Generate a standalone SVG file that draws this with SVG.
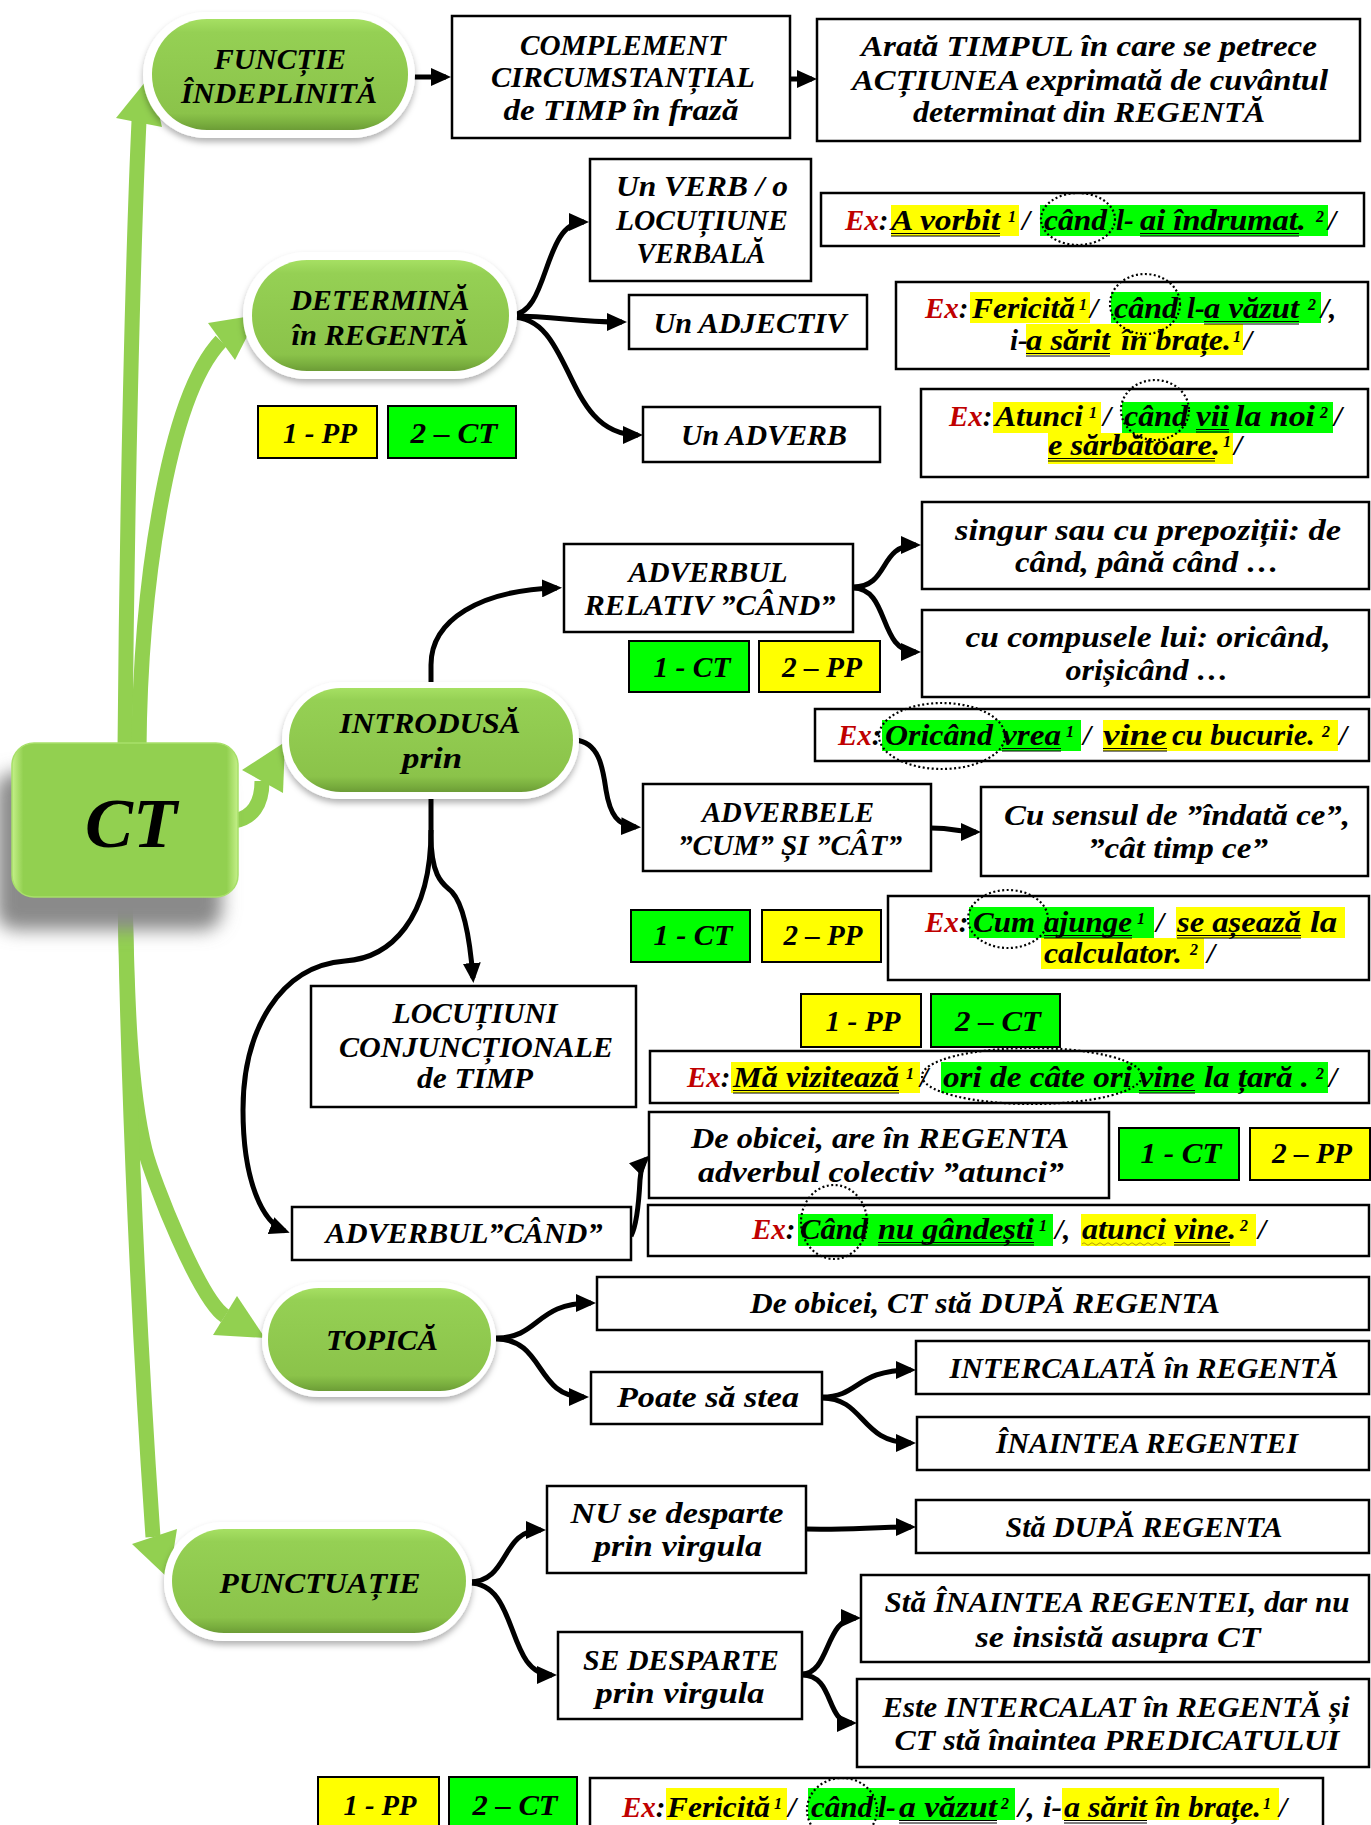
<svg xmlns="http://www.w3.org/2000/svg" width="1371" height="1825" viewBox="0 0 1371 1825">
<defs>
<style>
.t{font-family:"Liberation Serif","Times New Roman",serif;font-weight:bold;font-style:italic;font-size:30px;fill:#000;text-anchor:middle}
.e{font-family:"Liberation Serif","Times New Roman",serif;font-weight:bold;font-style:italic;font-size:29px;fill:#000}
.s{font-family:"Liberation Serif","Times New Roman",serif;font-weight:bold;font-style:italic;font-size:16px;fill:#000}
.red{fill:#C00000}
.box{fill:#fff;stroke:#000;stroke-width:2.5}
.ly{fill:#FFFF00;stroke:#000;stroke-width:2}
.lg{fill:#00FF00;stroke:#000;stroke-width:2}
.hy{fill:#FFFF00}
.hg{fill:#00FF00}
.con{fill:none;stroke:#000;stroke-width:5;marker-end:url(#ah)}
.ul{stroke:#000;stroke-width:1;fill:none}
.dot{fill:none;stroke:#000;stroke-width:2.2;stroke-dasharray:2 2.5}
.gl{fill:none;stroke:#92D050;stroke-width:15}
.gh{fill:#92D050}
.pw{fill:#fff;filter:url(#psh)}
.pg{fill:url(#pg)}
</style>
<marker id="ah" viewBox="0 0 20 18" markerWidth="20" markerHeight="18" refX="15" refY="9" orient="auto" markerUnits="userSpaceOnUse"><path d="M0,0 L20,9 L0,18 Z" fill="#000"/></marker>
<linearGradient id="pg" x1="0" y1="0" x2="0" y2="1"><stop offset="0" stop-color="#A6E063"/><stop offset="0.12" stop-color="#95D054"/><stop offset="0.85" stop-color="#8BC34A"/><stop offset="0.94" stop-color="#79AE3E"/><stop offset="1" stop-color="#6C9C36"/></linearGradient>
<linearGradient id="cg" x1="0" y1="0" x2="1" y2="0"><stop offset="0" stop-color="#C5F08A"/><stop offset="0.05" stop-color="#92D050"/><stop offset="0.95" stop-color="#92D050"/><stop offset="1" stop-color="#C5F08A"/></linearGradient>
<filter id="psh" x="-10%" y="-10%" width="120%" height="140%"><feDropShadow dx="0" dy="4" stdDeviation="3" flood-color="#000" flood-opacity="0.3"/></filter>
<filter id="blur" x="-20%" y="-20%" width="140%" height="140%"><feGaussianBlur stdDeviation="9"/></filter>
</defs>
<rect width="1371" height="1825" fill="#fff"/>

<g id="connectors">
<path class="gl" d="M125,750 C127,500 133,250 139,121"/>
<polygon class="gh" points="116,118 150,76 162,127"/>
<path class="gl" d="M139,750 C140,600 165,400 221,341"/>
<polygon class="gh" points="208,323 258,315 235,360"/>
<path class="gl" d="M234,821 C252,818 262,805 262,781"/>
<polygon class="gh" points="242,770 285,742 283,793"/>
<path class="gl" d="M125,890 C127,1000 130,1090 145,1150 C153,1182 200,1300 225,1316"/>
<polygon class="gh" points="213,1335 265,1338 237,1296"/>
<path class="gl" d="M125,890 C128,1100 140,1350 153,1537"/>
<polygon class="gh" points="132,1544 169,1579 177,1529"/>

<path class="con" d="M413,77 L446,77"/>
<path class="con" d="M790,79 L812,79"/>
<path class="con" d="M511,315 C550,315 542,222 584,222"/>
<path class="con" d="M511,316 C560,316 570,322 622,322"/>
<path class="con" d="M511,317 C575,317 562,435 638,435"/>
<path class="con" d="M431,686 L431,665 C431,620 480,590 557,588"/>
<path class="con" d="M853,587 C890,587 878,545 916,545"/>
<path class="con" d="M853,588 C890,588 878,652 916,652"/>
<path class="con" d="M575,740 C600,742 603,770 606,790 C610,815 618,826 636,827"/>
<path class="con" d="M931,828 C955,828 958,832 976,832"/>
<path class="con" d="M431,792 L431,835 C431,880 445,885 452,892 C464,905 470,940 473,978"/>
<path class="con" d="M431,830 C431,920 390,958 345,961 C280,966 243,1030 243,1110 C243,1180 262,1222 285,1231"/>
<path class="con" d="M631,1236 C637,1225 639,1200 640,1180 C641,1168 643,1162 646,1159"/>
<path class="con" d="M496,1338 C540,1338 535,1303 591,1303"/>
<path class="con" d="M496,1339 C545,1339 535,1397 584,1397"/>
<path class="con" d="M822,1397 C860,1397 855,1370 911,1370"/>
<path class="con" d="M822,1398 C865,1398 860,1443 911,1443"/>
<path class="con" d="M806,1529 C850,1530 870,1527 911,1527"/>
<path class="con" d="M469,1582 C510,1582 500,1530 541,1530"/>
<path class="con" d="M469,1583 C520,1583 505,1675 552,1675"/>
<path class="con" d="M802,1674 C830,1674 825,1618 856,1618"/>
<path class="con" d="M802,1675 C835,1675 825,1723 852,1723"/>
</g>

<g id="ct">
<rect x="-4" y="772" width="226" height="158" rx="20" fill="#8a8a8a" filter="url(#blur)"/>
<rect x="12" y="743" width="226" height="154" rx="22" fill="url(#cg)" stroke="#a8e06a" stroke-width="1.5"/>
<text class="t" x="131" y="847" style="font-size:70px" textLength="92" lengthAdjust="spacingAndGlyphs">CT</text>
</g>

<g id="functie">
<rect class="pw" x="143" y="12" width="272" height="126" rx="63"/>
<rect class="pg" x="152" y="19" width="256" height="111" rx="55"/>
<text class="t" x="280" y="69" textLength="132" lengthAdjust="spacingAndGlyphs">FUNCȚIE</text>
<text class="t" x="279" y="103" textLength="196" lengthAdjust="spacingAndGlyphs">ÎNDEPLINITĂ</text>
</g>

<g id="complement">
<rect class="box" x="452" y="16" width="338" height="122"/>
<text class="t" x="623" y="55" textLength="206" lengthAdjust="spacingAndGlyphs">COMPLEMENT</text>
<text class="t" x="623" y="87" textLength="264" lengthAdjust="spacingAndGlyphs">CIRCUMSTANȚIAL</text>
<text class="t" x="621" y="120" textLength="235" lengthAdjust="spacingAndGlyphs">de TIMP în frază</text>
</g>

<g id="arata">
<rect class="box" x="817" y="19" width="543" height="122"/>
<text class="t" x="1089" y="56" textLength="456" lengthAdjust="spacingAndGlyphs">Arată TIMPUL în care se petrece</text>
<text class="t" x="1090" y="90" textLength="476" lengthAdjust="spacingAndGlyphs">ACȚIUNEA exprimată de cuvântul</text>
<text class="t" x="1089" y="122" textLength="352" lengthAdjust="spacingAndGlyphs">determinat din REGENTĂ</text>
</g>

<g id="determina">
<rect class="pw" x="243" y="252" width="274" height="127" rx="63"/>
<rect class="pg" x="252" y="260" width="257" height="111" rx="55"/>
<text class="t" x="380" y="310" textLength="179" lengthAdjust="spacingAndGlyphs">DETERMINĂ</text>
<text class="t" x="380" y="345" textLength="177" lengthAdjust="spacingAndGlyphs">în REGENTĂ</text>
</g>

<g id="verb">
<rect class="box" x="590" y="159" width="221" height="122"/>
<text class="t" x="702" y="196" textLength="172" lengthAdjust="spacingAndGlyphs">Un VERB / o</text>
<text class="t" x="702" y="230" textLength="172" lengthAdjust="spacingAndGlyphs">LOCUȚIUNE</text>
<text class="t" x="701" y="263" textLength="129" lengthAdjust="spacingAndGlyphs">VERBALĂ</text>
</g>

<g id="ex1">
<rect class="box" x="821" y="193" width="543" height="53"/>
<rect class="hy" x="891" y="205" width="128" height="31"/>
<rect class="hg" x="1040" y="205" width="288" height="31"/>
<text class="e" x="845" y="230"><tspan class="red">Ex</tspan>:</text>
<text class="e" x="891" y="230" textLength="109" lengthAdjust="spacingAndGlyphs">A vorbit</text>
<text class="s" x="1008" y="222">1</text>
<text class="e" x="1022" y="230">/</text>
<text class="e" x="1044" y="230" textLength="63" lengthAdjust="spacingAndGlyphs">când</text>
<text class="e" x="1116" y="230">l-</text>
<text class="e" x="1140" y="230" textLength="166" lengthAdjust="spacingAndGlyphs">ai îndrumat.</text>
<text class="s" x="1316" y="222">2</text>
<text class="e" x="1328" y="230">/</text>
<path class="ul" d="M891,233.5 H1000 M891,236 H1000 M1140,233.5 H1299 M1140,236 H1299"/>
<ellipse class="dot" cx="1078" cy="219" rx="37" ry="26"/>
</g>

<g id="adjectiv">
<rect class="box" x="629" y="295" width="238" height="54"/>
<text class="t" x="750" y="333" textLength="193" lengthAdjust="spacingAndGlyphs">Un ADJECTIV</text>
</g>

<g id="ex2">
<rect class="box" x="896" y="282" width="472" height="87"/>
<rect class="hy" x="970" y="292" width="120" height="31"/>
<rect class="hg" x="1111" y="292" width="210" height="31"/>
<rect class="hy" x="1026" y="324" width="217" height="31"/>
<text class="e" x="925" y="318"><tspan class="red">Ex</tspan>:</text>
<text class="e" x="972" y="318" textLength="103" lengthAdjust="spacingAndGlyphs">Fericită</text>
<text class="s" x="1079" y="310">1</text>
<text class="e" x="1090" y="318">/</text>
<text class="e" x="1114" y="318" textLength="64" lengthAdjust="spacingAndGlyphs">când</text>
<text class="e" x="1187" y="318">l-</text>
<text class="e" x="1204" y="318" textLength="95" lengthAdjust="spacingAndGlyphs">a văzut</text>
<text class="s" x="1308" y="310">2</text>
<text class="e" x="1321" y="318">/,</text>
<text class="e" x="1010" y="350">i-</text>
<text class="e" x="1026" y="350" textLength="84" lengthAdjust="spacingAndGlyphs">a sărit</text>
<text class="e" x="1121" y="350" textLength="110" lengthAdjust="spacingAndGlyphs">în brațe.</text>
<text class="s" x="1233" y="342">1</text>
<text class="e" x="1244" y="350">/</text>
<path class="ul" d="M1204,321.5 H1299 M1204,324 H1299 M1026,353.5 H1110 M1026,356 H1110"/>
<ellipse class="dot" cx="1145" cy="304" rx="35" ry="30"/>
</g>

<g id="adverb">
<rect class="box" x="643" y="407" width="237" height="55"/>
<text class="t" x="764" y="445" textLength="166" lengthAdjust="spacingAndGlyphs">Un ADVERB</text>
</g>

<g id="ex3">
<rect class="box" x="921" y="389" width="447" height="88"/>
<rect class="hy" x="993" y="402" width="108" height="31"/>
<rect class="hg" x="1122" y="402" width="211" height="31"/>
<rect class="hy" x="1048" y="433" width="185" height="31"/>
<text class="e" x="949" y="426"><tspan class="red">Ex</tspan>:</text>
<text class="e" x="995" y="426" textLength="88" lengthAdjust="spacingAndGlyphs">Atunci</text>
<text class="s" x="1089" y="418">1</text>
<text class="e" x="1103" y="426">/</text>
<text class="e" x="1124" y="426" textLength="64" lengthAdjust="spacingAndGlyphs">când</text>
<text class="e" x="1196" y="426" textLength="33" lengthAdjust="spacingAndGlyphs">vii</text>
<text class="e" x="1235" y="426" textLength="80" lengthAdjust="spacingAndGlyphs">la noi</text>
<text class="s" x="1320" y="418">2</text>
<text class="e" x="1334" y="426">/</text>
<text class="e" x="1048" y="455" textLength="172" lengthAdjust="spacingAndGlyphs">e sărbătoare.</text>
<text class="s" x="1223" y="447">1</text>
<text class="e" x="1234" y="455">/</text>
<path class="ul" d="M1196,429.5 H1229 M1196,432 H1229 M1048,458.5 H1215 M1048,461 H1215"/>
<ellipse class="dot" cx="1155" cy="410" rx="34" ry="30"/>
</g>

<g id="labels1">
<rect class="ly" x="258" y="406" width="119" height="52"/>
<text class="t" x="320" y="443" textLength="74" lengthAdjust="spacingAndGlyphs">1 - PP</text>
<rect class="lg" x="388" y="406" width="128" height="52"/>
<text class="t" x="454" y="443" textLength="87" lengthAdjust="spacingAndGlyphs">2 – CT</text>
</g>

<g id="adv-relativ">
<rect class="box" x="564" y="544" width="289" height="88"/>
<text class="t" x="708" y="582" textLength="159" lengthAdjust="spacingAndGlyphs">ADVERBUL</text>
<text class="t" x="710" y="615" textLength="251" lengthAdjust="spacingAndGlyphs">RELATIV ”CÂND”</text>
</g>

<g id="labels2">
<rect class="lg" x="629" y="641" width="120" height="51"/>
<text class="t" x="692" y="677" textLength="77" lengthAdjust="spacingAndGlyphs">1 - CT</text>
<rect class="ly" x="759" y="641" width="121" height="51"/>
<text class="t" x="822" y="677" textLength="80" lengthAdjust="spacingAndGlyphs">2 – PP</text>
</g>

<g id="singur">
<rect class="box" x="922" y="502" width="447" height="87"/>
<text class="t" x="1148" y="540" textLength="386" lengthAdjust="spacingAndGlyphs">singur sau cu prepoziții: de</text>
<text class="t" x="1147" y="572" textLength="264" lengthAdjust="spacingAndGlyphs">când, până când …</text>
</g>

<g id="compuse">
<rect class="box" x="922" y="610" width="447" height="87"/>
<text class="t" x="1148" y="647" textLength="365" lengthAdjust="spacingAndGlyphs">cu compusele lui: oricând,</text>
<text class="t" x="1147" y="680" textLength="163" lengthAdjust="spacingAndGlyphs">orișicând …</text>
</g>

<g id="introdusa">
<rect class="pw" x="282" y="682" width="297" height="117" rx="58"/>
<rect class="pg" x="289" y="688" width="284" height="104" rx="52"/>
<text class="t" x="430" y="733" textLength="181" lengthAdjust="spacingAndGlyphs">INTRODUSĂ</text>
<text class="t" x="432" y="768" textLength="60" lengthAdjust="spacingAndGlyphs">prin</text>
</g>

<g id="ex4">
<rect class="box" x="815" y="709" width="554" height="52"/>
<rect class="hg" x="882" y="720" width="199" height="31"/>
<rect class="hy" x="1103" y="720" width="235" height="31"/>
<text class="e" x="838" y="745"><tspan class="red">Ex</tspan>:</text>
<text class="e" x="885" y="745" textLength="108" lengthAdjust="spacingAndGlyphs">Oricând</text>
<text class="e" x="1002" y="745" textLength="59" lengthAdjust="spacingAndGlyphs">vrea</text>
<text class="s" x="1066" y="737">1</text>
<text class="e" x="1083" y="745">/</text>
<text class="e" x="1103" y="745" textLength="64" lengthAdjust="spacingAndGlyphs">vine</text>
<text class="e" x="1172" y="745" textLength="143" lengthAdjust="spacingAndGlyphs">cu bucurie.</text>
<text class="s" x="1322" y="737">2</text>
<text class="e" x="1339" y="745">/</text>
<path class="ul" d="M1002,748.5 H1061 M1002,751 H1061 M1103,748.5 H1167 M1103,751 H1167"/>
<ellipse class="dot" cx="942" cy="736" rx="63" ry="33"/>
</g>

<g id="adv-cum">
<rect class="box" x="643" y="784" width="288" height="87"/>
<text class="t" x="788" y="822" textLength="172" lengthAdjust="spacingAndGlyphs">ADVERBELE</text>
<text class="t" x="790" y="855" textLength="224" lengthAdjust="spacingAndGlyphs">”CUM” ȘI ”CÂT”</text>
</g>

<g id="sens">
<rect class="box" x="981" y="787" width="387" height="89"/>
<text class="t" x="1177" y="825" textLength="346" lengthAdjust="spacingAndGlyphs">Cu sensul de ”îndată ce”,</text>
<text class="t" x="1178" y="858" textLength="180" lengthAdjust="spacingAndGlyphs">”cât timp ce”</text>
</g>

<g id="labels3">
<rect class="lg" x="631" y="910" width="119" height="52"/>
<text class="t" x="693" y="945" textLength="79" lengthAdjust="spacingAndGlyphs">1 - CT</text>
<rect class="ly" x="762" y="910" width="119" height="52"/>
<text class="t" x="823" y="945" textLength="79" lengthAdjust="spacingAndGlyphs">2 – PP</text>
</g>

<g id="ex5">
<rect class="box" x="888" y="896" width="481" height="84"/>
<rect class="hg" x="969" y="907" width="185" height="31"/>
<rect class="hy" x="1176" y="907" width="169" height="31"/>
<rect class="hy" x="1041" y="938" width="163" height="31"/>
<text class="e" x="925" y="932"><tspan class="red">Ex</tspan>:</text>
<text class="e" x="973" y="932" textLength="62" lengthAdjust="spacingAndGlyphs">Cum</text>
<text class="e" x="1044" y="932" textLength="88" lengthAdjust="spacingAndGlyphs">ajunge</text>
<text class="s" x="1137" y="924">1</text>
<text class="e" x="1156" y="932">/</text>
<text class="e" x="1177" y="932" textLength="124" lengthAdjust="spacingAndGlyphs">se așează</text>
<text class="e" x="1310" y="932" textLength="27" lengthAdjust="spacingAndGlyphs">la</text>
<text class="e" x="1044" y="963" textLength="138" lengthAdjust="spacingAndGlyphs">calculator.</text>
<text class="s" x="1190" y="955">2</text>
<text class="e" x="1207" y="963">/</text>
<path class="ul" d="M1044,935.5 H1132 M1044,938 H1132 M1177,935.5 H1301 M1177,938 H1301"/>
<ellipse class="dot" cx="1008" cy="919" rx="40" ry="29"/>
</g>

<g id="locutiuni">
<rect class="box" x="311" y="986" width="325" height="121"/>
<text class="t" x="475" y="1023" textLength="165" lengthAdjust="spacingAndGlyphs">LOCUȚIUNI</text>
<text class="t" x="476" y="1057" textLength="274" lengthAdjust="spacingAndGlyphs">CONJUNCȚIONALE</text>
<text class="t" x="475" y="1088" textLength="116" lengthAdjust="spacingAndGlyphs">de TIMP</text>
</g>

<g id="labels4">
<rect class="ly" x="801" y="994" width="120" height="53"/>
<text class="t" x="863" y="1031" textLength="75" lengthAdjust="spacingAndGlyphs">1 - PP</text>
<rect class="lg" x="931" y="994" width="129" height="53"/>
<text class="t" x="998" y="1031" textLength="86" lengthAdjust="spacingAndGlyphs">2 – CT</text>
</g>

<g id="ex6">
<rect class="box" x="650" y="1051" width="719" height="52"/>
<rect class="hy" x="731" y="1062" width="189" height="31"/>
<rect class="hg" x="941" y="1062" width="387" height="31"/>
<text class="e" x="687" y="1087"><tspan class="red">Ex</tspan>:</text>
<text class="e" x="733" y="1087" textLength="166" lengthAdjust="spacingAndGlyphs">Mă vizitează</text>
<text class="s" x="906" y="1079">1</text>
<text class="e" x="920" y="1087">/</text>
<text class="e" x="943" y="1087" textLength="189" lengthAdjust="spacingAndGlyphs">ori de câte ori</text>
<text class="e" x="1139" y="1087" textLength="56" lengthAdjust="spacingAndGlyphs">vine</text>
<text class="e" x="1204" y="1087" textLength="105" lengthAdjust="spacingAndGlyphs">la țară .</text>
<text class="s" x="1316" y="1079">2</text>
<text class="e" x="1329" y="1087">/</text>
<path class="ul" d="M733,1090.5 H899 M733,1093 H899 M1139,1090.5 H1195 M1139,1093 H1195"/>
<ellipse class="dot" cx="1032" cy="1076" rx="110" ry="28"/>
</g>

<g id="de-obicei-are">
<rect class="box" x="649" y="1112" width="460" height="86"/>
<text class="t" x="880" y="1148" textLength="378" lengthAdjust="spacingAndGlyphs">De obicei, are în REGENTA</text>
<text class="t" x="881" y="1182" textLength="366" lengthAdjust="spacingAndGlyphs">adverbul colectiv ”atunci”</text>
</g>

<g id="labels5">
<rect class="lg" x="1119" y="1128" width="120" height="52"/>
<text class="t" x="1181" y="1163" textLength="81" lengthAdjust="spacingAndGlyphs">1 - CT</text>
<rect class="ly" x="1250" y="1128" width="120" height="52"/>
<text class="t" x="1312" y="1163" textLength="80" lengthAdjust="spacingAndGlyphs">2 – PP</text>
</g>

<g id="adv-cand">
<rect class="box" x="292" y="1207" width="339" height="53"/>
<text class="t" x="464" y="1243" textLength="277" lengthAdjust="spacingAndGlyphs">ADVERBUL”CÂND”</text>
</g>

<g id="ex7">
<rect class="box" x="648" y="1205" width="721" height="51"/>
<rect class="hg" x="798" y="1214" width="255" height="32"/>
<rect class="hy" x="1081" y="1214" width="175" height="32"/>
<text class="e" x="752" y="1239"><tspan class="red">Ex</tspan>:</text>
<text class="e" x="800" y="1239" textLength="68" lengthAdjust="spacingAndGlyphs">Când</text>
<text class="e" x="878" y="1239" textLength="156" lengthAdjust="spacingAndGlyphs">nu gândești</text>
<text class="s" x="1039" y="1231">1</text>
<text class="e" x="1055" y="1239">/,</text>
<text class="e" x="1082" y="1239" textLength="84" lengthAdjust="spacingAndGlyphs">atunci</text>
<text class="e" x="1174" y="1239" textLength="62" lengthAdjust="spacingAndGlyphs">vine.</text>
<text class="s" x="1240" y="1231">2</text>
<text class="e" x="1258" y="1239">/</text>
<path class="ul" d="M878,1242.5 H1034 M878,1245 H1034 M1174,1242.5 H1230 M1174,1245 H1230"/>
<path d="M1082,1244 q2,-2.5 4,0 t4,0 t4,0 t4,0 t4,0 t4,0 t4,0 t4,0 t4,0 t4,0 t4,0 t4,0 t4,0 t4,0 t4,0 t4,0 t4,0 t4,0 t4,0 t4,0 t4,0" fill="none" stroke="#B59F00" stroke-width="1"/>
<ellipse class="dot" cx="834" cy="1222" rx="33" ry="37"/>
</g>

<g id="topica">
<rect class="pw" x="262" y="1282" width="234" height="115" rx="57"/>
<rect class="pg" x="268" y="1288" width="223" height="103" rx="51"/>
<text class="t" x="382" y="1350" textLength="112" lengthAdjust="spacingAndGlyphs">TOPICĂ</text>
</g>

<g id="ct-sta-dupa">
<rect class="box" x="597" y="1277" width="772" height="53"/>
<text class="t" x="985" y="1313" textLength="470" lengthAdjust="spacingAndGlyphs">De obicei, CT stă DUPĂ REGENTA</text>
</g>

<g id="poate">
<rect class="box" x="591" y="1372" width="231" height="52"/>
<text class="t" x="708" y="1407" textLength="182" lengthAdjust="spacingAndGlyphs">Poate să stea</text>
</g>

<g id="intercalata">
<rect class="box" x="916" y="1341" width="453" height="53"/>
<text class="t" x="1144" y="1378" textLength="389" lengthAdjust="spacingAndGlyphs">INTERCALATĂ în REGENTĂ</text>
</g>

<g id="inaintea">
<rect class="box" x="917" y="1417" width="452" height="53"/>
<text class="t" x="1147" y="1453" textLength="302" lengthAdjust="spacingAndGlyphs">ÎNAINTEA REGENTEI</text>
</g>

<g id="punctuatie">
<rect class="pw" x="164" y="1522" width="308" height="119" rx="59"/>
<rect class="pg" x="172" y="1529" width="294" height="104" rx="52"/>
<text class="t" x="320" y="1593" textLength="201" lengthAdjust="spacingAndGlyphs">PUNCTUAȚIE</text>
</g>

<g id="nu-desparte">
<rect class="box" x="547" y="1486" width="259" height="87"/>
<text class="t" x="677" y="1523" textLength="213" lengthAdjust="spacingAndGlyphs">NU se desparte</text>
<text class="t" x="678" y="1556" textLength="168" lengthAdjust="spacingAndGlyphs">prin virgula</text>
</g>

<g id="sta-dupa">
<rect class="box" x="916" y="1500" width="453" height="53"/>
<text class="t" x="1144" y="1537" textLength="277" lengthAdjust="spacingAndGlyphs">Stă DUPĂ REGENTA</text>
</g>

<g id="se-desparte">
<rect class="box" x="558" y="1632" width="244" height="87"/>
<text class="t" x="681" y="1670" textLength="196" lengthAdjust="spacingAndGlyphs">SE DESPARTE</text>
<text class="t" x="680" y="1703" textLength="169" lengthAdjust="spacingAndGlyphs">prin virgula</text>
</g>

<g id="sta-inaintea">
<rect class="box" x="861" y="1575" width="508" height="87"/>
<text class="t" x="1117" y="1612" textLength="465" lengthAdjust="spacingAndGlyphs">Stă ÎNAINTEA REGENTEI, dar nu</text>
<text class="t" x="1118" y="1647" textLength="285" lengthAdjust="spacingAndGlyphs">se insistă asupra CT</text>
</g>

<g id="este-intercalat">
<rect class="box" x="857" y="1679" width="512" height="88"/>
<text class="t" x="1116" y="1717" textLength="467" lengthAdjust="spacingAndGlyphs">Este INTERCALAT în REGENTĂ și</text>
<text class="t" x="1117" y="1750" textLength="445" lengthAdjust="spacingAndGlyphs">CT stă înaintea PREDICATULUI</text>
</g>

<g id="labels6">
<rect class="ly" x="318" y="1777" width="121" height="60"/>
<text class="t" x="380" y="1815" textLength="73" lengthAdjust="spacingAndGlyphs">1 - PP</text>
<rect class="lg" x="449" y="1777" width="128" height="60"/>
<text class="t" x="515" y="1815" textLength="85" lengthAdjust="spacingAndGlyphs">2 – CT</text>
</g>

<g id="ex8">
<rect class="box" x="590" y="1778" width="733" height="60"/>
<rect class="hy" x="666" y="1788" width="121" height="32"/>
<rect class="hg" x="808" y="1788" width="207" height="32"/>
<rect class="hy" x="1062" y="1788" width="217" height="32"/>
<text class="e" x="622" y="1817"><tspan class="red">Ex</tspan>:</text>
<text class="e" x="667" y="1817" textLength="103" lengthAdjust="spacingAndGlyphs">Fericită</text>
<text class="s" x="774" y="1809">1</text>
<text class="e" x="788" y="1817">/</text>
<text class="e" x="811" y="1817" textLength="62" lengthAdjust="spacingAndGlyphs">când</text>
<text class="e" x="878" y="1817">l-</text>
<text class="e" x="899" y="1817" textLength="98" lengthAdjust="spacingAndGlyphs">a văzut</text>
<text class="s" x="1001" y="1809">2</text>
<text class="e" x="1018" y="1817" textLength="44" lengthAdjust="spacingAndGlyphs">/, i-</text>
<text class="e" x="1064" y="1817" textLength="83" lengthAdjust="spacingAndGlyphs">a sărit</text>
<text class="e" x="1155" y="1817" textLength="106" lengthAdjust="spacingAndGlyphs">în brațe.</text>
<text class="s" x="1263" y="1809">1</text>
<text class="e" x="1279" y="1817">/</text>
<path class="ul" d="M899,1820.5 H997 M899,1823 H997 M1064,1820.5 H1147 M1064,1823 H1147"/>
<ellipse class="dot" cx="842" cy="1810" rx="35" ry="32"/>
</g>
</svg>
